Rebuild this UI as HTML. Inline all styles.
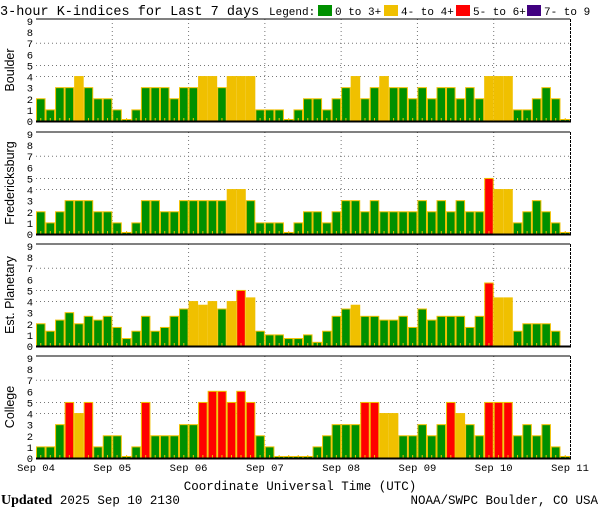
<!DOCTYPE html>
<html><head><meta charset="utf-8"><style>
body{margin:0;background:#fff;width:600px;height:510px;overflow:hidden}
svg{display:block;font-family:"Liberation Sans",sans-serif}
</style></head><body>
<svg id="chart" width="600" height="510">
<text x="0" y="15" font-family="Liberation Mono" font-size="13.5">3-hour K-indices for Last 7 days</text>
<g font-size="11" font-family="Liberation Mono">
<text x="269" y="15">Legend:</text>
<rect x="318" y="5" width="14" height="11" fill="#009000"/>
<text x="335" y="15">0 to 3+</text>
<rect x="384" y="5" width="14" height="11" fill="#f0c000"/>
<text x="401" y="15">4- to 4+</text>
<rect x="456" y="5" width="14" height="11" fill="#ff0000"/>
<text x="473" y="15">5- to 6+</text>
<rect x="527" y="5" width="14" height="11" fill="#400080"/>
<text x="544" y="15">7- to 9</text>
</g>
<g id="panels"></g>
<text x="300" y="490" text-anchor="middle" font-family="Liberation Mono" font-size="12.5">Coordinate Universal Time (UTC)</text>
<text x="1" y="504" font-family="Liberation Mono" font-size="12.5"><tspan font-family="Liberation Serif" font-weight="bold" font-size="14">Updated</tspan> 2025 Sep 10 2130</text>
<text x="598" y="504" text-anchor="end" font-family="Liberation Mono" font-size="12.5">NOAA/SWPC Boulder, CO USA</text>
</svg>
<script>
const stations = ["Boulder","Fredericksburg","Est. Planetary","College"];
const dayLabels = ["Sep 04","Sep 05","Sep 06","Sep 07","Sep 08","Sep 09","Sep 10","Sep 11"];
const yTicks = [0,1,2,3,4,5,6,7,8,9];
const boulder = [2,1,3,3,4,3,2,2,1,0,1,3,3,3,2,3,3,4,4,3,4,4,4,1,1,1,0,1,2,2,1,2,3,4,2,3,4,3,3,2,3,2,3,3,2,3,2,4,4,4,1,1,2,3,2,0];
const fredericksburg = [2,1,2,3,3,3,2,2,1,0,1,3,3,2,2,3,3,3,3,3,4,4,3,1,1,1,0,1,2,2,1,2,3,3,2,3,2,2,2,2,3,2,3,2,3,2,2,5,4,4,1,2,3,2,1,0];
const planetary = [2,1.33,2.33,3,2,2.67,2.33,2.67,1.67,0.67,1.33,2.67,1.33,1.67,2.67,3.33,4,3.67,4,3.33,4,5,4.33,1.33,1,1,0.67,0.67,1,0.33,1.33,2.67,3.33,3.67,2.67,2.67,2.33,2.33,2.67,1.67,3.33,2.33,2.67,2.67,2.67,1.67,2.67,5.67,4.33,4.33,1.33,2,2,2,1.33,null];
const college = [1,1,3,5,4,5,1,2,2,0,1,5,2,2,2,3,3,5,6,6,5,6,5,2,1,0,0,0,0,1,2,3,3,3,5,5,4,4,2,2,3,2,3,5,4,3,2,5,5,5,2,3,2,3,1,0];
const series = [boulder, fredericksburg, planetary, college];

const NS="http://www.w3.org/2000/svg";
const X0=36, X1=570, N=56, PH=102;
const tops=[19,132,244,356];
const bw=(X1-X0)/N;
const xPos=i=>X0+i*bw;
function mk(tag,attrs,parent){const e=document.createElementNS(NS,tag);for(const k in attrs)e.setAttribute(k,attrs[k]);parent.appendChild(e);return e;}
const root=document.getElementById('panels');
series.forEach((vals,p)=>{
  const top=tops[p], bot=top+PH;
  const yPos=v=>bot-v*(100/9);
  const g=mk('g',{},root);
  
  
  [4,5,7].forEach(v=>{const l=mk('line',{x1:X0,x2:X1,y1:yPos(v),y2:yPos(v),stroke:'#777','stroke-dasharray':'1,3'},g);
    
    });
  for(let d=1;d<7;d++){const x=xPos(d*8);const l=mk('line',{x1:x,x2:x,y1:top,y2:bot,stroke:'#777','stroke-dasharray':'1,3'},g);
    
    }
  vals.forEach((v,i)=>{
    if(v===null)return;
    const h=Math.max(v*(100/9),1.5);
    const col=v>=6.67?'#400080':v>=4.67?'#ff0000':v>=3.67?'#f0c000':'#009000';
    const r=mk('rect',{x:xPos(i)+0.5,y:bot-h,width:bw-1,height:h,fill:col,stroke:'#f0c000','stroke-width':1},g);
    
    
    const t=mk('rect',{x:xPos(i)+bw/2-0.5,y:bot-3,width:1,height:3,fill:'#f0c000'},g);
    
    
  });
  const tl=mk('line',{x1:X0,x2:X1,y1:top,y2:top,stroke:'#000','stroke-width':1},g);
  
  
  const bl=mk('line',{x1:X0,x2:X1+1,y1:bot+0.5,y2:bot+0.5,stroke:'#000','stroke-width':2},g);
  
  
  const rl=mk('line',{x1:X1+0.5,x2:X1+0.5,y1:top,y2:bot,stroke:'#000','stroke-dasharray':'3,1'},g);
  
  
  yTicks.forEach(v=>{const t=mk('text',{x:33,y:yPos(v)+4,'text-anchor':'end','font-size':'10.5','font-family':'Liberation Mono'},g);
    t.textContent=v;
    
    });
  const yl=mk('text',{x:0,y:0,'text-anchor':'middle','font-size':'12.5',transform:`translate(14,${top+PH/2}) rotate(-90)`},g);
  yl.textContent=stations[p];
  
  
});
dayLabels.forEach((d,i)=>{const t=mk('text',{x:xPos(i*8),y:471,'text-anchor':'middle','font-size':'10.5','font-family':'Liberation Mono'},root);
  t.textContent=d;
  
  });
</script>
</body></html>
